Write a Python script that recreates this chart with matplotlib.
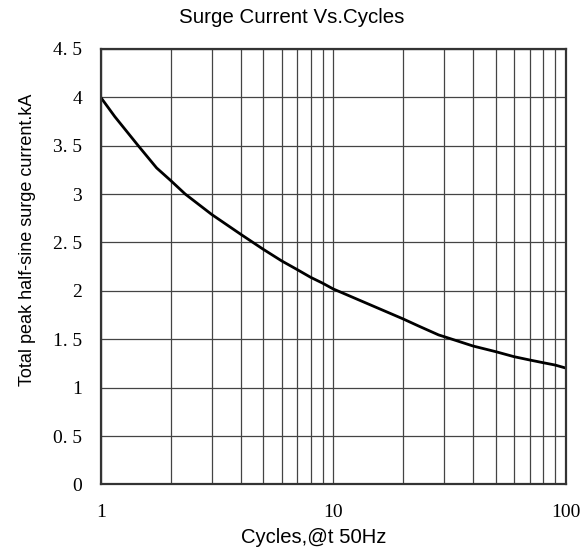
import numpy as np
import matplotlib.pyplot as plt
from matplotlib.ticker import FixedLocator, FixedFormatter, LogLocator, NullFormatter

cycles = [1, 1.15, 1.45, 1.74, 2, 2.31, 3, 4, 5, 6, 7, 8, 9, 10,
          20, 23.3, 28.4, 30, 40, 50, 60, 70, 80, 90, 100]
current = [4.0, 3.80, 3.5, 3.27, 3.14, 3.0, 2.79, 2.585, 2.43, 2.31, 2.22, 2.14, 2.08, 2.02,
           1.71, 1.637, 1.545, 1.527, 1.43, 1.372, 1.32, 1.286, 1.258, 1.234, 1.203]
yticks = [0, 0.5, 1, 1.5, 2, 2.5, 3, 3.5, 4, 4.5]
ylabels = ['0', '0. 5', '1', '1. 5', '2', '2. 5', '3', '3. 5', '4', '4. 5']
xticks = [1, 10, 100]
xlabels = ['1', '10', '100']

fig = plt.figure(figsize=(5.8, 5.54), dpi=100)
ax = fig.add_axes([0.1736, 0.1255, 0.8017, 0.7863])

ax.plot(cycles, current, color='black', linewidth=2, solid_joinstyle='round')
ax.set_xscale('log')
ax.set_xlim(1, 100)
ax.set_ylim(0, 4.5)

ax.xaxis.set_major_locator(FixedLocator(xticks))
ax.xaxis.set_major_formatter(FixedFormatter(xlabels))
ax.xaxis.set_minor_locator(LogLocator(base=10, subs=np.arange(2, 10)))
ax.xaxis.set_minor_formatter(NullFormatter())
ax.yaxis.set_major_locator(FixedLocator(yticks))
ax.yaxis.set_major_formatter(FixedFormatter(ylabels))

ax.grid(True, which='both', color='#444444', linewidth=0.9)
ax.tick_params(axis='x', which='both', length=0, pad=14)
ax.tick_params(axis='y', which='both', length=0, pad=13.5)
for lab in ax.get_xticklabels() + ax.get_yticklabels():
    lab.set_fontfamily('Liberation Serif')
    lab.set_fontsize(14)

for s in ax.spines.values():
    s.set_linewidth(1.6)
    s.set_color('#333333')

# title and axis titles placed as in the original (not centred on the axes)
fig.text(0.5026, 0.958, 'Surge Current Vs.Cycles', family='Liberation Sans', fontsize=14.8,
         ha='center', va='baseline')
fig.text(0.541, 0.0193, 'Cycles,@t 50Hz', family='Liberation Sans', fontsize=14.6,
         ha='center', va='baseline')
fig.text(0.0547, 0.567, 'Total peak half-sine surge current.kA', family='Liberation Sans',
         fontsize=13, rotation=90, rotation_mode='anchor', ha='center', va='baseline')

fig.savefig('out.png', dpi=100)
